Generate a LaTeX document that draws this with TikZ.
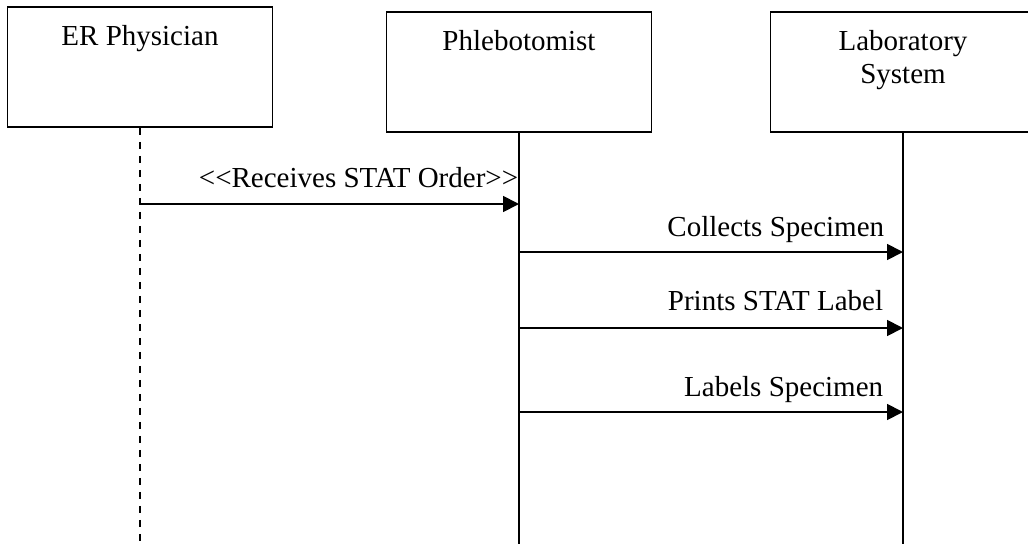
\documentclass[tikz,border=0pt]{standalone}
\usepackage{fontspec}
\setmainfont{Liberation Serif}
\usetikzlibrary{arrows.meta}

\begin{document}
\begin{tikzpicture}
    [
        x=1pt, y=-1pt,
        line width=1.8pt,
        font=\fontsize{29}{33}\selectfont,
        actor/.style={draw, rectangle, minimum width=265pt, minimum height=120pt, inner sep=0pt},
        title/.style={anchor=base, align=center, inner sep=0pt},
        msg/.style={anchor=base east, inner sep=0pt},
        call/.style={-{Triangle[length=16pt,width=16pt]},},
        lifeline/.style={},
        ghost/.style={dash pattern=on 7pt off 7pt},
    ]

    \path[use as bounding box] (0,0) rectangle (1028,544);
    \clip (0,0) rectangle (1028,544);

    % actors
    \node (er)  at (140,67)  [actor] {};
    \node (phl) at (519,72)  [actor] {};
    \node (lab) at (903,72)  [actor] {};

    \node (ert)  at (140,45)  [title] {ER Physician};
    \node (phlt) at (519,50)  [title] {Phlebotomist};
    \node (labt) at (903,83)  [title] {Laboratory\\System};

    % lifeline ends
    \coordinate (erend)  at (140,544);
    \coordinate (phlend) at (519,544);
    \coordinate (labend) at (903,544);

    \draw[ghost]    (er.south)  -- (erend);
    \draw[lifeline] (phl.south) -- (phlend);
    \draw[lifeline] (lab.south) -- (labend);

    % messages
    \coordinate (m1a) at (140,204);
    \coordinate (m1b) at (519,204);
    \coordinate (m2a) at (519,252);
    \coordinate (m2b) at (903,252);
    \coordinate (m3a) at (519,328);
    \coordinate (m3b) at (903,328);
    \coordinate (m4a) at (519,412);
    \coordinate (m4b) at (903,412);

    \path
    (m1a) edge [call] (m1b)
    (m2a) edge [call] (m2b)
    (m3a) edge [call] (m3b)
    (m4a) edge [call] (m4b);

    \node (l1) at (519,187) [msg] {<\kern0pt<Receives STAT Order>\kern0pt>};
    \node (l2) at (885,236) [msg] {Collects Specimen};
    \node (l3) at (884,310) [msg] {Prints STAT Label};
    \node (l4) at (884,396) [msg] {Labels Specimen};

\end{tikzpicture}
\end{document}
